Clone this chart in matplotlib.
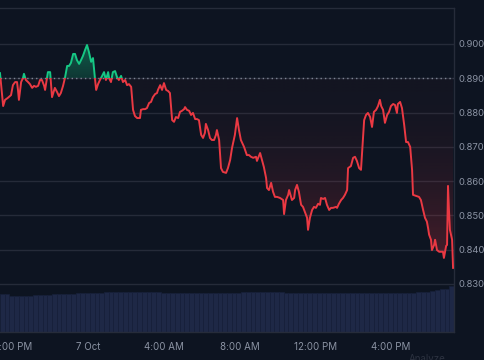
import numpy as np
import matplotlib
matplotlib.use("Agg")
import matplotlib.pyplot as plt
from matplotlib.patches import Rectangle, PathPatch
from matplotlib.path import Path

#------------------Data: minutes after 19:20 on 6 Oct, price in USD------------------
minutes = [0, 10, 16, 25, 35, 41, 48, 54, 57, 60, 67, 73, 76, 82, 89, 95, 102, 108, 114, 121,
           127, 133, 140, 143, 146, 152, 159, 165, 174, 181, 187, 193, 200, 206, 213, 219, 225, 232, 238, 244,
           251, 257, 263, 270, 276, 282, 289, 295, 301, 305, 311, 317, 324, 330, 336, 343, 346, 352, 358, 365,
           371, 377, 384, 390, 397, 403, 409, 416, 422, 428, 435, 444, 447, 454, 460, 466, 473, 479, 485, 492,
           498, 501, 508, 514, 520, 527, 533, 539, 546, 552, 558, 565, 571, 577, 584, 587, 593, 600, 606, 612,
           619, 625, 631, 638, 644, 650, 653, 660, 666, 672, 679, 685, 688, 695, 701, 707, 717, 723, 730, 736,
           745, 752, 758, 764, 774, 783, 790, 796, 803, 812, 815, 825, 831, 837, 844, 847, 853, 860, 866, 872,
           879, 888, 898, 901, 907, 914, 917, 923, 926, 933, 936, 942, 948, 955, 961, 967, 974, 977, 983, 990,
           996, 1002, 1009, 1015, 1018, 1025, 1031, 1037, 1044, 1050, 1056, 1066, 1069, 1075, 1082, 1088, 1094, 1101, 1104, 1113,
           1120, 1126, 1132, 1139, 1145, 1151, 1155, 1161, 1167, 1174, 1180, 1186, 1193, 1199, 1205, 1209, 1215, 1221, 1228, 1234,
           1240, 1247, 1253, 1259, 1262, 1269, 1275, 1282, 1288, 1294, 1301, 1307, 1310, 1320, 1329, 1335, 1342, 1348, 1354, 1358,
           1361, 1367, 1370, 1377, 1380, 1386, 1393, 1399, 1405, 1408, 1415, 1418, 1421, 1424, 1427, 1434, 1437]
prices = [0.8915, 0.8819, 0.8837, 0.8843, 0.8851, 0.8880, 0.8889, 0.8889, 0.8866, 0.8837, 0.8889, 0.8901, 0.8913, 0.8895, 0.8889, 0.8883, 0.8872, 0.8878, 0.8875, 0.8878,
          0.8895, 0.8895, 0.8878, 0.8866, 0.8883, 0.8918, 0.8918, 0.8845, 0.8872, 0.8860, 0.8848, 0.8857, 0.8878, 0.8901, 0.8936, 0.8936, 0.8945, 0.8971, 0.8971, 0.8953,
          0.8942, 0.8953, 0.8965, 0.8983, 0.8997, 0.8977, 0.8948, 0.8959, 0.8901, 0.8866, 0.8883, 0.8895, 0.8907, 0.8918, 0.8895, 0.8918, 0.8901, 0.8889, 0.8918, 0.8921,
          0.8904, 0.8895, 0.8907, 0.8889, 0.8895, 0.8880, 0.8883, 0.8875, 0.8808, 0.8790, 0.8784, 0.8784, 0.8808, 0.8810, 0.8810, 0.8813, 0.8828, 0.8831, 0.8845, 0.8854,
          0.8857, 0.8866, 0.8880, 0.8866, 0.8886, 0.8866, 0.8863, 0.8857, 0.8778, 0.8773, 0.8787, 0.8784, 0.8802, 0.8805, 0.8810, 0.8816, 0.8808, 0.8805, 0.8793, 0.8799,
          0.8781, 0.8781, 0.8778, 0.8735, 0.8726, 0.8741, 0.8767, 0.8749, 0.8726, 0.8720, 0.8720, 0.8735, 0.8749, 0.8720, 0.8638, 0.8627, 0.8624, 0.8638, 0.8662, 0.8697,
          0.8735, 0.8784, 0.8749, 0.8720, 0.8700, 0.8676, 0.8676, 0.8671, 0.8668, 0.8671, 0.8659, 0.8682, 0.8662, 0.8641, 0.8609, 0.8580, 0.8574, 0.8595, 0.8569, 0.8554,
          0.8554, 0.8551, 0.8545, 0.8504, 0.8545, 0.8560, 0.8574, 0.8554, 0.8545, 0.8551, 0.8574, 0.8589, 0.8569, 0.8531, 0.8525, 0.8510, 0.8493, 0.8458, 0.8493, 0.8516,
          0.8525, 0.8522, 0.8534, 0.8531, 0.8551, 0.8548, 0.8551, 0.8531, 0.8516, 0.8522, 0.8522, 0.8525, 0.8522, 0.8534, 0.8545, 0.8551, 0.8560, 0.8574, 0.8638, 0.8644,
          0.8668, 0.8671, 0.8659, 0.8638, 0.8633, 0.8720, 0.8778, 0.8793, 0.8799, 0.8787, 0.8758, 0.8802, 0.8808, 0.8819, 0.8837, 0.8819, 0.8808, 0.8770, 0.8793, 0.8802,
          0.8819, 0.8825, 0.8822, 0.8799, 0.8825, 0.8831, 0.8813, 0.8764, 0.8714, 0.8714, 0.8700, 0.8633, 0.8560, 0.8557, 0.8554, 0.8545, 0.8516, 0.8493, 0.8482, 0.8462,
          0.8444, 0.8429, 0.8399, 0.8414, 0.8429, 0.8399, 0.8394, 0.8394, 0.8394, 0.8376, 0.8411, 0.8414, 0.8586, 0.8516, 0.8458, 0.8429, 0.8347]

# 24h volume, one bar every 15 minutes (millions)
volume = [152, 152, 146, 146, 146, 146, 146, 149, 149, 149, 149, 152, 152, 152, 152, 152,
          155, 155, 155, 155, 155, 155, 160, 160, 160, 160, 160, 160, 160, 160, 160, 160,
          160, 160, 158, 158, 158, 158, 158, 158, 158, 158, 158, 158, 158, 158, 158, 158,
          158, 158, 158, 159, 159, 159, 159, 159, 159, 159, 159, 159, 157, 157, 157, 157,
          157, 157, 157, 157, 157, 157, 155, 155, 155, 155, 155, 155, 155, 155, 155, 155,
          155, 155, 155, 155, 157, 157, 157, 157, 160, 160, 160, 164, 168, 172, 174, 184]

baseline = 0.890
y_ticks = [0.83, 0.84, 0.85, 0.86, 0.87, 0.88, 0.89, 0.90]
x_tick_minutes = [40, 280, 520, 760, 1000, 1240]
x_tick_labels = ["8:00 PM", "7 Oct", "4:00 AM", "8:00 AM", "12:00 PM", "4:00 PM"]
#------------------Data------------------

bg = "#0d1421"
red = "#ea3943"
green = "#16c784"
grid_col = "#252b39"
text_col = "#8b93a3"

plt.rcParams['font.family'] = ['Inter', 'DejaVu Sans']

t = np.array(minutes, dtype=float)
p = np.array(prices)
ymin, ymax = 0.8160, 0.9105

fig = plt.figure(figsize=(4.85, 3.6), dpi=100, facecolor=bg)
ax = fig.add_axes([0, 28 / 360, 454 / 485, 324 / 360])
ax.set_facecolor(bg)

#------------------Volume bars on a twin axis------------------
ax2 = ax.twinx()
vt = np.arange(len(volume)) * 15 + 7.5
ax2.bar(vt, volume, width=15, color="#1e2846", edgecolor="#17203a", linewidth=0.5, zorder=1)
ax2.set_ylim(0, max(volume) * 7.05)
ax2.set_yticks([])
ax2.set_zorder(0)
ax.set_zorder(1)
ax.patch.set_visible(False)
ax2.patch.set_visible(True)
ax2.patch.set_facecolor(bg)
for s in ax2.spines.values():
    s.set_visible(False)


#------------------Gradient fill helper------------------
def gradient_fill(where, color, alphas, lo, hi):
    poly = ax.fill_between(t, p, baseline, where=where, interpolate=True,
                           facecolor="none", edgecolor="none")
    path = Path.make_compound_path(*poly.get_paths())
    patch = PathPatch(path, transform=ax.transData, facecolor="none", edgecolor="none")
    ax.add_patch(patch)
    img = np.zeros((len(alphas), 1, 4))
    img[:, 0, :3] = matplotlib.colors.to_rgb(color)
    img[:, 0, 3] = alphas
    im = ax.imshow(img, extent=[0, 1440, lo, hi], origin="lower", aspect="auto", zorder=2)
    im.set_clip_path(patch)


# red: nearly transparent at baseline, stronger further down
s = np.linspace(0, 1, 256)
gradient_fill(p < baseline, red, 0.03 + 0.27 * (1 - s) ** 2, 0.834, baseline)
# green: stronger at the top
gradient_fill(p > baseline, green, 0.2 + 0.22 * s, baseline, 0.900)

#------------------Price line, coloured by side of baseline------------------
l_red, = ax.plot(t, p, color=red, lw=1.4, zorder=4, solid_joinstyle="round")
l_red.set_clip_path(Rectangle((0, ymin), 1440, baseline - ymin, transform=ax.transData))
l_grn, = ax.plot(t, p, color=green, lw=1.4, zorder=4, solid_joinstyle="round")
l_grn.set_clip_path(Rectangle((0, baseline), 1440, ymax - baseline, transform=ax.transData))

ax.axhline(baseline, color="#7d8493", lw=1.0, ls=(0, (1, 2.2)), zorder=3)

#------------------Axes styling------------------
ax.set_xlim(0, 1440)
ax.set_ylim(ymin, ymax)
ax2.set_xlim(0, 1440)
ax.set_yticks(y_ticks)
ax.set_yticklabels(["%.3f" % v for v in y_ticks])
ax.yaxis.tick_right()
ax.set_xticks(x_tick_minutes)
ax.set_xticklabels(x_tick_labels)
ax.tick_params(axis="both", length=0, colors=text_col, labelsize=7)
ax.tick_params(axis="y", pad=3.5, labelsize=6.8)
ax.tick_params(axis="x", pad=7)
ax.grid(axis="y", color=grid_col, lw=1.0, zorder=0)
ax.spines["left"].set_visible(False)
for side in ["top", "right", "bottom"]:
    ax.spines[side].set_color("#262c3a")
    ax.spines[side].set_linewidth(1.0)

fig.text(409 / 485, 0.004, "Analyze", color="#2c3240", fontsize=7, va="center", ha="left")

fig.savefig("out.png", dpi=100, facecolor=bg)
